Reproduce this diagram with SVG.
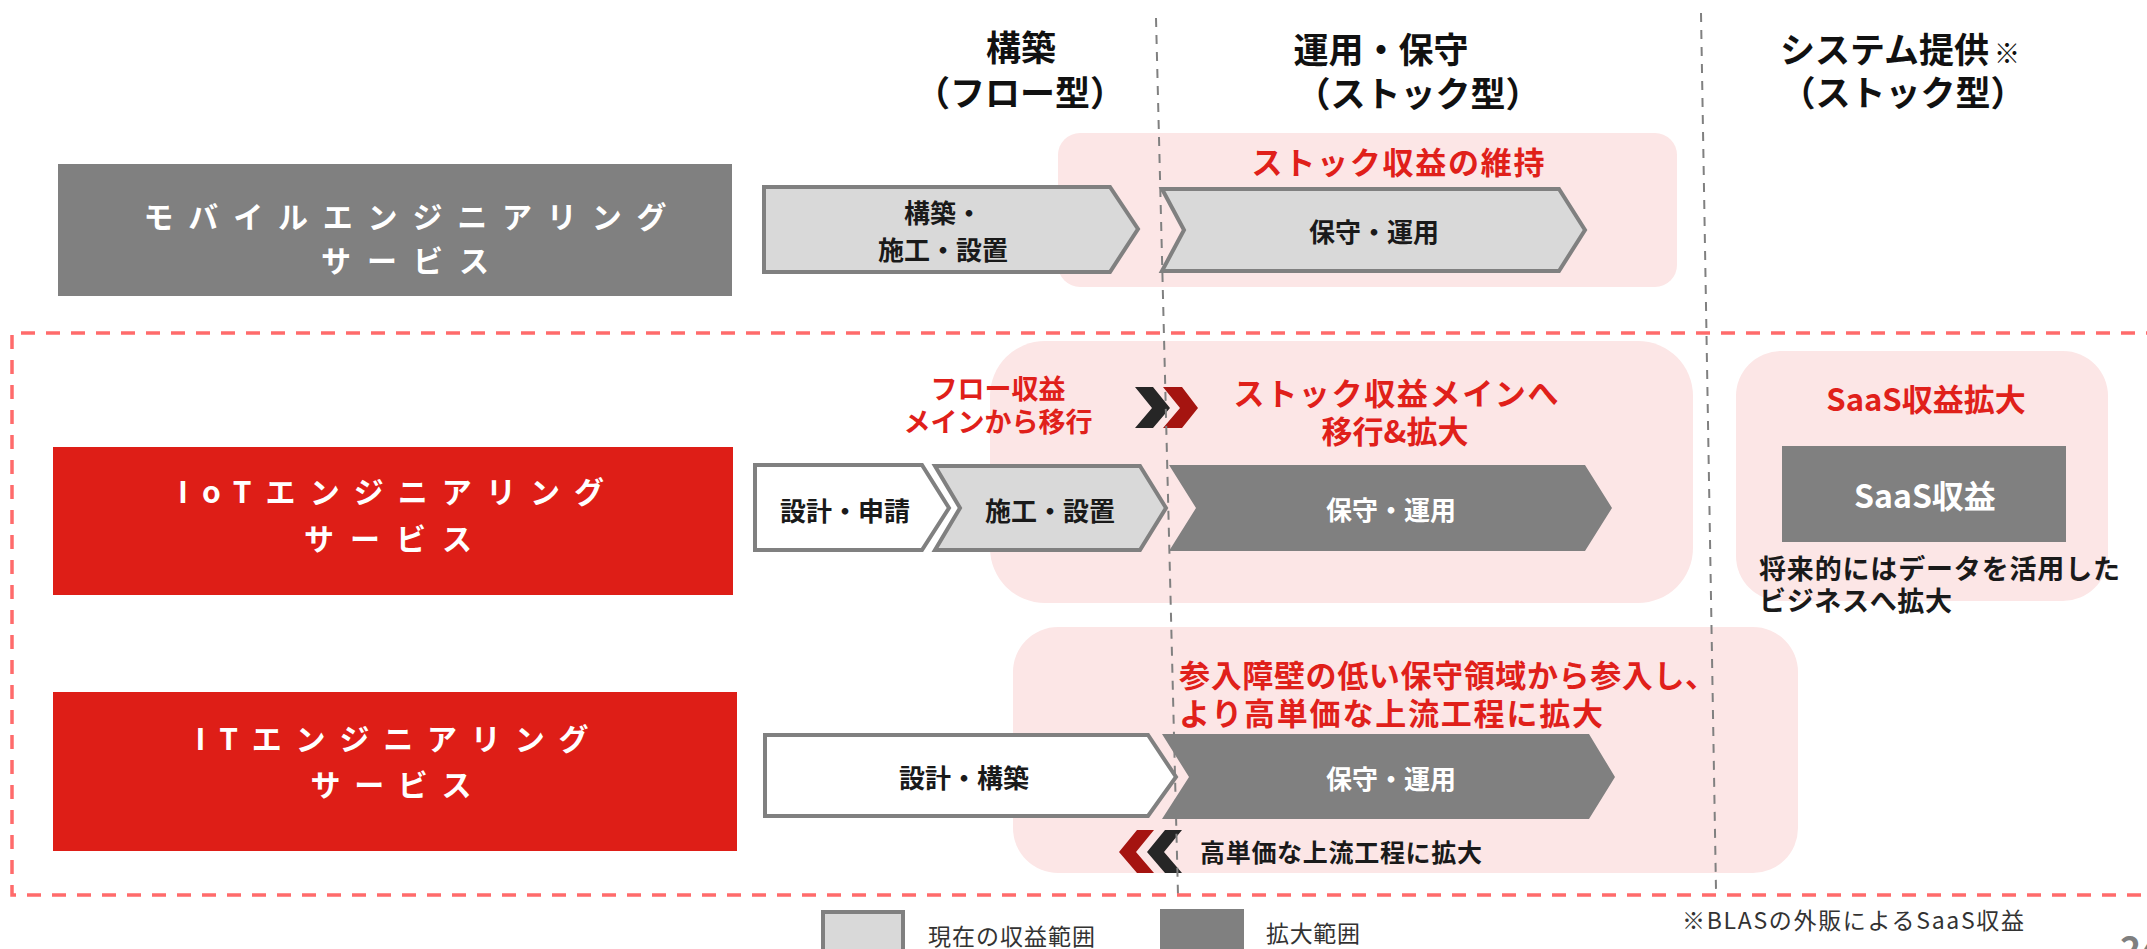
<svg xmlns="http://www.w3.org/2000/svg" width="2147" height="949" viewBox="0 0 2147 949">
<style>
text{font-family:"Noto Sans CJK JP","Noto Sans",sans-serif;font-weight:bold}
.hdr{font-size:35px;fill:#111;text-anchor:middle}
.svc{font-size:30px;fill:#fff;text-anchor:middle;dominant-baseline:central}
.lbl{font-size:26px;fill:#1a1a1a;text-anchor:middle;dominant-baseline:central}
.lblw{font-size:26px;fill:#fff;text-anchor:middle;dominant-baseline:central}
.red{font-size:31px;fill:#E0201A;dominant-baseline:central}
.blk{fill:#1a1a1a;dominant-baseline:central}
.leg{font-size:23px;font-weight:normal;fill:#333;dominant-baseline:central}
.pink{fill:#FCE6E6}
.cur{fill:#D9D9D9;stroke:#808080;stroke-width:4}
.wht{fill:#fff;stroke:#808080;stroke-width:4}
.exp{fill:#808080}
.vline{stroke:#808080;stroke-width:2;stroke-dasharray:9 8;fill:none}
.frame{stroke:#FF6B6B;stroke-width:3.5;stroke-dasharray:14 11;fill:none}
</style>

<g id="headers">
<text class="hdr" x="1021" y="61">構築</text>
<text class="hdr" x="1020" y="106">（フロー型）</text>
<text class="hdr" x="1381" y="63">運用・保守</text>
<text class="hdr" x="1418" y="107">（ストック型）</text>
<text class="hdr" x="1900" y="63">システム提供<tspan style="font-size:26px" dx="5">※</tspan></text>
<text class="hdr" x="1903" y="106">（ストック型）</text>
</g>

<g id="highlights">
<rect class="pink" x="1058" y="133" width="619" height="154" rx="22"/>
<rect class="pink" x="990" y="341" width="703" height="262" rx="55"/>
<rect class="pink" x="1013" y="627" width="785" height="246" rx="45"/>
<rect class="pink" x="1736" y="351" width="372" height="250" rx="45"/>
</g>

<g id="mobile">
<rect x="58" y="164" width="674" height="132" fill="#808080"/>
<text class="svc" x="405" y="215" textLength="523" lengthAdjust="spacing">モバイルエンジニアリング</text>
<text class="svc" x="405" y="259" textLength="168" lengthAdjust="spacing">サービス</text>
</g>

<g id="iot">
<rect x="53" y="447" width="680" height="148" fill="#DE1E17"/>
<text class="svc" x="391" y="490" textLength="426" lengthAdjust="spacing">IoTエンジニアリング</text>
<text class="svc" x="388" y="537" textLength="168" lengthAdjust="spacing">サービス</text>
</g>

<g id="it">
<rect x="53" y="692" width="684" height="159" fill="#DE1E17"/>
<text class="svc" x="392" y="737" textLength="393" lengthAdjust="spacing">ITエンジニアリング</text>
<text class="svc" x="391" y="783" textLength="161" lengthAdjust="spacing">サービス</text>
</g>

<g id="mobile-build">
<polygon class="cur" points="764,187 1110,187 1138,229 1110,272 764,272"/>
<text class="lbl" x="943" y="211">構築・</text>
<text class="lbl" x="943" y="248">施工・設置</text>
</g>
<g id="mobile-maint">
<polygon class="cur" points="1162,189 1559,189 1585,230 1559,271 1162,271 1184,230"/>
<text class="lbl" x="1374" y="230">保守・運用</text>
</g>
<text class="red" x="1398" y="160" text-anchor="middle" textLength="293" lengthAdjust="spacing">ストック収益の維持</text>

<g id="iot-design">
<polygon class="wht" points="755,465 922,465 949,508 922,550 755,550"/>
<text class="lbl" x="845" y="509">設計・申請</text>
</g>
<g id="iot-build">
<polygon class="cur" points="935,466 1140,466 1166,508 1140,550 935,550 960,508"/>
<text class="lbl" x="1050" y="509">施工・設置</text>
</g>
<g id="iot-maint">
<polygon class="exp" points="1169,465 1585,465 1612,508 1585,551 1169,551 1196,508"/>
<text class="lblw" x="1391" y="508">保守・運用</text>
</g>
<text class="red" x="998" y="387" style="font-size:27px" text-anchor="middle">フロー収益</text>
<text class="red" x="998" y="420" style="font-size:27px" text-anchor="middle">メインから移行</text>
<text class="red" x="1396" y="391" text-anchor="middle" textLength="325" lengthAdjust="spacing">ストック収益メインへ</text>
<text class="red" x="1395" y="429" text-anchor="middle">移行&amp;拡大</text>

<g id="saas">
<text class="red" x="1926" y="397" text-anchor="middle">SaaS収益拡大</text>
<rect x="1782" y="446" width="284" height="96" fill="#808080"/>
<text class="lblw" x="1925" y="494" style="font-size:32px">SaaS収益</text>
<text class="blk" x="1759" y="567" font-size="27" textLength="361" lengthAdjust="spacing">将来的にはデータを活用した</text>
<text class="blk" x="1759" y="599" font-size="27" textLength="193" lengthAdjust="spacing">ビジネスへ拡大</text>
</g>

<g id="it-design">
<polygon class="wht" points="765,735 1148,735 1176,777 1148,816 765,816"/>
<text class="lbl" x="964" y="776">設計・構築</text>
</g>
<g id="it-maint">
<polygon class="exp" points="1162,734 1589,734 1615,777 1589,819 1162,819 1189,777"/>
<text class="lblw" x="1391" y="777">保守・運用</text>
</g>
<text class="red" x="1179" y="673" textLength="537" lengthAdjust="spacing">参入障壁の低い保守領域から参入し、</text>
<text class="red" x="1179" y="711" textLength="424" lengthAdjust="spacing">より高単価な上流工程に拡大</text>
<text class="blk" x="1200" y="851" font-size="25" textLength="282" lengthAdjust="spacing">高単価な上流工程に拡大</text>

<g id="connectors">
<polygon fill="#262626" points="1135,387 1153,387 1170,408 1153,428 1135,428 1152,408"/>
<polygon fill="#A51410" points="1163,387 1182,387 1198,408 1182,428 1163,428 1180,408"/>
<polygon fill="#A51410" points="1137,830 1154,830 1136,852 1154,873 1137,873 1119,852"/>
<polygon fill="#262626" points="1165,830 1182,830 1164,852 1182,873 1165,873 1147,852"/>
<line class="vline" x1="1156" y1="18" x2="1178" y2="895"/>
<line class="vline" x1="1701" y1="13" x2="1716" y2="890"/>
<polyline class="frame" points="2160,333 12,333 12,895 2160,895"/>
</g>

<g id="legend">
<rect class="cur" x="823" y="912" width="80" height="50"/>
<text class="leg" x="928" y="935" textLength="167" lengthAdjust="spacing">現在の収益範囲</text>
<rect class="exp" x="1160" y="909" width="84" height="50"/>
<text class="leg" x="1266" y="932" textLength="94" lengthAdjust="spacing">拡大範囲</text>
<text class="leg" x="1682" y="919" fill="#222" textLength="342" lengthAdjust="spacing">※BLASの外販によるSaaS収益</text>
<text x="2120" y="962" font-size="36" fill="#7F7F7F">24</text>
</g>
</svg>
